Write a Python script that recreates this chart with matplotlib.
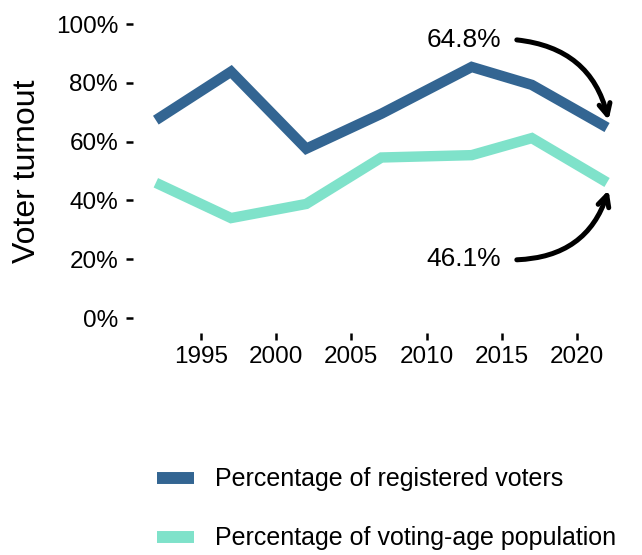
import matplotlib
matplotlib.use("Agg")
import matplotlib.pyplot as plt
from matplotlib.lines import Line2D

plt.rcParams['font.family'] = ['Liberation Sans', 'DejaVu Sans']

# election years and turnout (%)
years = [1992, 1997, 2002, 2007, 2013, 2017, 2022]
registered = [67.3, 83.8, 57.6, 69.5, 85.4, 79.3, 64.8]
voting_age = [46.0, 34.0, 38.8, 54.6, 55.4, 61.2, 46.1]
labels = ["Percentage of registered voters", "Percentage of voting-age population"]
colors = ["#336592", "#7fe2ca"]

fig = plt.figure(figsize=(6.42, 5.55), dpi=100)
ax = fig.add_axes([0.2076, 0.4005, 0.7731, 0.5827])

ax.plot(years, registered, color=colors[0], lw=7.5, solid_capstyle='butt', solid_joinstyle='miter')
ax.plot(years, voting_age, color=colors[1], lw=7.5, solid_capstyle='butt', solid_joinstyle='miter')

ax.set_xlim(1990.5, 2023.5)
ax.set_ylim(-5, 105)
ax.set_yticks([0, 20, 40, 60, 80, 100])
ax.set_yticklabels([f"{v}%" for v in [0, 20, 40, 60, 80, 100]])
ax.set_xticks([1995, 2000, 2005, 2010, 2015, 2020])
ax.tick_params(axis='both', labelsize=17.5, width=1.8, length=5, colors='black')
ax.tick_params(axis='y', pad=6)
ax.tick_params(axis='x', pad=4.5)
for s in ax.spines.values():
    s.set_visible(False)
ax.set_ylabel("Voter turnout", fontsize=23, labelpad=10)

# last-value callouts
arrow_style = '->,head_length=0.8,head_width=0.4'
ax.text(2012.5, 94.6, "64.8%", fontsize=19, ha='center', va='center')
ax.annotate("", xy=(2022.1, 67.3), xytext=(2016.0, 94.6),
            arrowprops=dict(arrowstyle=arrow_style, lw=3.6, color='black',
                            connectionstyle='arc3,rad=-0.35', shrinkA=0, shrinkB=0))
ax.text(2012.5, 20.0, "46.1%", fontsize=19, ha='center', va='center')
ax.annotate("", xy=(2022.1, 43.5), xytext=(2016.0, 19.8),
            arrowprops=dict(arrowstyle=arrow_style, lw=3.6, color='black',
                            connectionstyle='arc3,rad=0.35', shrinkA=0, shrinkB=0))

handles = [Line2D([0], [0], color=c, lw=8.6, solid_capstyle='butt') for c in colors]
fig.legend(handles, labels, loc='upper left', bbox_to_anchor=(0.2445, 0.158),
           frameon=False, fontsize=18, handlelength=1.48, handletextpad=0.84,
           labelspacing=1.4, borderaxespad=0, borderpad=0)

fig.savefig("out.png", dpi=100)
